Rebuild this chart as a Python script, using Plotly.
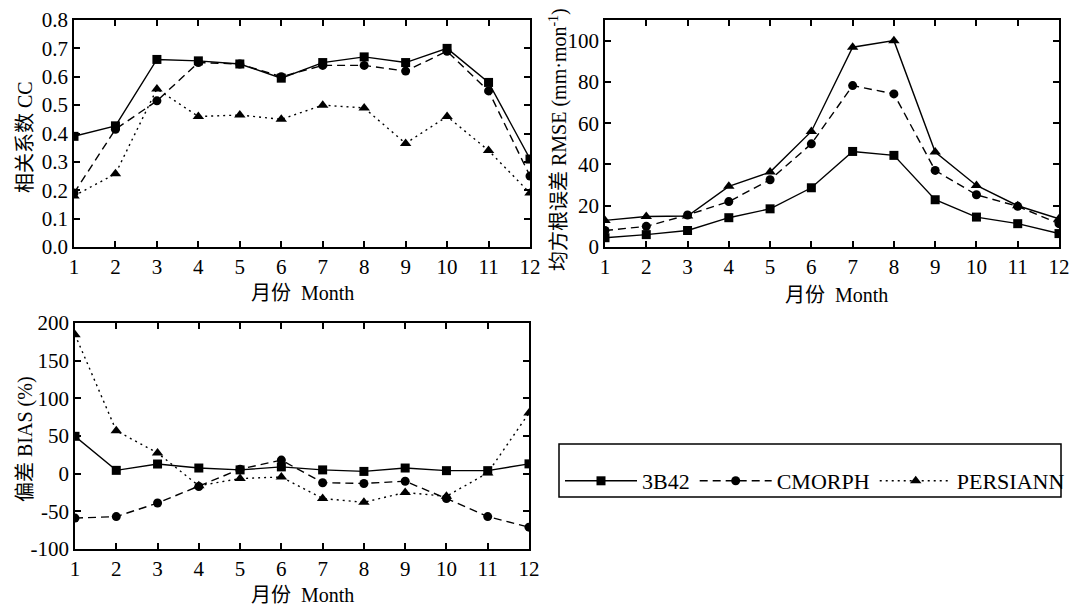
import plotly.graph_objects as go

months = list(range(1, 13))
series_names = ["3B42", "CMORPH", "PERSIANN"]

cc_3b42 = [0.39, 0.427, 0.661, 0.656, 0.645, 0.595, 0.65, 0.67, 0.65, 0.70, 0.58, 0.31]
cc_cmorph = [0.19, 0.415, 0.515, 0.65, 0.645, 0.60, 0.64, 0.64, 0.62, 0.69, 0.55, 0.25]
cc_persiann = [0.18, 0.258, 0.557, 0.46, 0.465, 0.45, 0.50, 0.49, 0.365, 0.46, 0.34, 0.19]

rmse_3b42 = [4.5, 6, 8, 14.2, 18.5, 28.7, 46.3, 44.4, 22.9, 14.5, 11.3, 6.5]
rmse_cmorph = [8, 10, 15.5, 22, 32.6, 50, 78.2, 74.2, 37.1, 25.3, 19.7, 11.3]
rmse_persiann = [12.9, 14.8, 15, 29.4, 36.3, 56, 96.8, 100, 46, 29.8, 20, 13.7]

bias_3b42 = [49.6, 4.4, 12.8, 7.5, 5, 9, 5, 3, 7.5, 4, 4, 13]
bias_cmorph = [-59, -57, -39, -17, 6, 18, -12, -13, -10, -33, -57, -71]
bias_persiann = [184.5, 57, 27.4, -16, -6.5, -4.4, -33, -38, -25, -30, 1, 80.5]

cc_ticks = [0.0, 0.1, 0.2, 0.3, 0.4, 0.5, 0.6, 0.7, 0.8]
rmse_ticks = [0, 20, 40, 60, 80, 100]
bias_ticks = [-100, -50, 0, 50, 100, 150, 200]

W, H = 1073, 607
def px_x(a, b):
    return [a / W, b / W]
def px_y(top, bottom):
    return [1 - bottom / H, 1 - top / H]

SERIF = "Liberation Serif, Times New Roman, serif"
CJK = "Noto Sans CJK SC"

fig = go.Figure()

symbols = ["square", "circle", "triangle-up"]
DASH = "8px,5px"
DOT = "2px,4px"

def add_panel(xa, ya, vals, dashes, legend):
    for i, (name, v) in enumerate(zip(series_names, vals)):
        fig.add_trace(go.Scatter(
            x=months, y=v, name=name, mode="lines+markers",
            xaxis=xa, yaxis=ya,
            line=dict(color="black", width=1.4, dash=dashes[i]),
            marker=dict(symbol=symbols[i], color="black", size=9 if i != 2 else 10),
            showlegend=legend,
        ))

add_panel("x", "y", [cc_3b42, cc_cmorph, cc_persiann], ["solid", DASH, DOT], True)
add_panel("x2", "y2", [rmse_3b42, rmse_cmorph, rmse_persiann], ["solid", DASH, "solid"], False)
add_panel("x3", "y3", [bias_3b42, bias_cmorph, bias_persiann], ["solid", DASH, DOT], False)

axis_common = dict(showline=True, linecolor="black", linewidth=1.5, mirror="ticks",
                   ticks="inside", ticklen=6, tickwidth=1.5, tickcolor="black",
                   showgrid=False, zeroline=False, automargin=False,
                   tickfont=dict(family=SERIF, size=21, color="black"))

xcommon = dict(axis_common, range=[1, 12], tickmode="array", tickvals=months,
               ticktext=[str(m) for m in months])

fig.update_layout(
    template="none",
    width=W, height=H,
    margin=dict(l=0, r=0, t=0, b=0, autoexpand=False),
    paper_bgcolor="white", plot_bgcolor="white",
    xaxis=dict(xcommon, domain=px_x(74, 530), anchor="y"),
    yaxis=dict(axis_common, domain=px_y(20, 247), anchor="x", range=[0, 0.8],
               tickmode="array", tickvals=cc_ticks, ticktext=[f"{t:.1f}" for t in cc_ticks]),
    xaxis2=dict(xcommon, domain=px_x(605, 1059), anchor="y2"),
    yaxis2=dict(axis_common, domain=px_y(20, 247), anchor="x2", range=[0, 110],
                tickmode="array", tickvals=rmse_ticks, ticktext=[str(t) for t in rmse_ticks]),
    xaxis3=dict(xcommon, domain=px_x(75, 529), anchor="y3"),
    yaxis3=dict(axis_common, domain=px_y(323, 549), anchor="x3", range=[-100, 200],
                tickmode="array", tickvals=bias_ticks, ticktext=[str(t) for t in bias_ticks]),
    showlegend=True,
    legend=dict(
        orientation="h", x=560 / W, y=1 - 460 / H, xanchor="left", yanchor="top",
        borderwidth=0, bgcolor="rgba(0,0,0,0)",
        font=dict(family=SERIF, size=22, color="black"),
        itemwidth=72, tracegroupgap=0,
    ),
    shapes=[dict(type="rect", xref="paper", yref="paper",
                 x0=559 / W, x1=1061 / W, y0=1 - 497 / H, y1=1 - 444 / H,
                 line=dict(color="black", width=1.5), fillcolor="rgba(0,0,0,0)")],
)

def ann(text, xpx, ypx, angle=0, size=20):
    fig.add_annotation(
        text=text, x=xpx / W, y=1 - ypx / H, xref="paper", yref="paper",
        showarrow=False, textangle=angle, xanchor="center", yanchor="middle",
        font=dict(family=SERIF, size=size, color="black"),
    )

def cjk(s):
    return f"<span style='font-family:{CJK}'>{s}</span>"

ann(cjk("月份") + "  Month", 302, 291)
ann(cjk("月份") + "  Month", 836, 293)
ann(cjk("月份") + "  Month", 302, 593)
ann(cjk("相关系数") + " CC", 23, 137, angle=-90)
ann(cjk("均方根误差") + " RMSE (mm·mon<sup>-1</sup>)", 557, 140, angle=-90)
ann(cjk("偏差") + " BIAS (%)", 23, 439, angle=-90)

fig.write_html(
    "out.html",
    config={"displayModeBar": False},
    post_script="document.body.style.margin='0px';document.body.style.overflow='hidden';",
)
